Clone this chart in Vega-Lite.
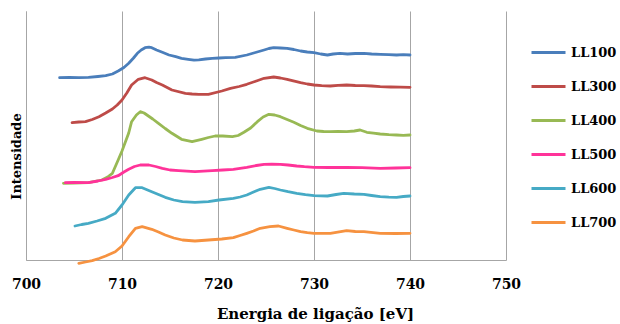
{
  "$schema": "https://vega.github.io/schema/vega-lite/v6.json",
  "width": 480,
  "height": 249,
  "autosize": {"type": "none"},
  "padding": {"left": 26, "top": 11, "right": 114, "bottom": 64},
  "background": "white",
  "config": {"view": {"stroke": null}},
  "data": {"values": [
    {"s":"LL100","e":703.5,"v":182.3},{"s":"LL100","e":704.5,"v":182.5},{"s":"LL100","e":705.5,"v":182.3},{"s":"LL100","e":706.5,"v":182.7},{"s":"LL100","e":707.5,"v":183.5},{"s":"LL100","e":708.3,"v":184.3},{"s":"LL100","e":709.0,"v":186},{"s":"LL100","e":709.6,"v":189},{"s":"LL100","e":710.2,"v":192.5},{"s":"LL100","e":710.7,"v":196.7},{"s":"LL100","e":711.2,"v":202},{"s":"LL100","e":711.6,"v":206.7},{"s":"LL100","e":712.0,"v":210},{"s":"LL100","e":712.4,"v":212.3},{"s":"LL100","e":712.8,"v":212.8},{"s":"LL100","e":713.1,"v":212.3},{"s":"LL100","e":713.6,"v":210},{"s":"LL100","e":714.2,"v":207.7},{"s":"LL100","e":714.9,"v":205},{"s":"LL100","e":715.6,"v":203.3},{"s":"LL100","e":716.2,"v":201.7},{"s":"LL100","e":716.9,"v":200.7},{"s":"LL100","e":717.5,"v":199.8},{"s":"LL100","e":718.0,"v":200.2},{"s":"LL100","e":718.7,"v":201},{"s":"LL100","e":719.4,"v":201.7},{"s":"LL100","e":720.1,"v":202},{"s":"LL100","e":720.8,"v":202.3},{"s":"LL100","e":721.8,"v":202.7},{"s":"LL100","e":723.0,"v":205},{"s":"LL100","e":723.9,"v":207.5},{"s":"LL100","e":724.8,"v":210},{"s":"LL100","e":725.3,"v":211.5},{"s":"LL100","e":725.8,"v":212.3},{"s":"LL100","e":726.5,"v":212},{"s":"LL100","e":727.2,"v":211.7},{"s":"LL100","e":727.9,"v":210.5},{"s":"LL100","e":728.6,"v":209},{"s":"LL100","e":729.3,"v":208},{"s":"LL100","e":730.0,"v":207.3},{"s":"LL100","e":730.7,"v":206},{"s":"LL100","e":731.4,"v":205},{"s":"LL100","e":732.0,"v":206},{"s":"LL100","e":732.7,"v":206.7},{"s":"LL100","e":733.5,"v":206},{"s":"LL100","e":734.3,"v":206.5},{"s":"LL100","e":735.2,"v":206.7},{"s":"LL100","e":736.0,"v":206},{"s":"LL100","e":736.9,"v":205.7},{"s":"LL100","e":737.8,"v":205.3},{"s":"LL100","e":738.6,"v":205},{"s":"LL100","e":739.3,"v":205.3},{"s":"LL100","e":740.0,"v":205},
    {"s":"LL300","e":704.8,"v":137.3},{"s":"LL300","e":705.5,"v":138},{"s":"LL300","e":706.2,"v":138.3},{"s":"LL300","e":706.9,"v":140.5},{"s":"LL300","e":707.6,"v":143.3},{"s":"LL300","e":708.3,"v":147},{"s":"LL300","e":709.0,"v":151},{"s":"LL300","e":709.5,"v":155},{"s":"LL300","e":710.0,"v":160},{"s":"LL300","e":710.5,"v":167},{"s":"LL300","e":711.0,"v":175},{"s":"LL300","e":711.7,"v":180.7},{"s":"LL300","e":712.4,"v":182.3},{"s":"LL300","e":713.1,"v":180},{"s":"LL300","e":713.6,"v":177.5},{"s":"LL300","e":714.2,"v":175},{"s":"LL300","e":715.2,"v":170},{"s":"LL300","e":716.6,"v":166.7},{"s":"LL300","e":717.3,"v":166},{"s":"LL300","e":718.0,"v":165.7},{"s":"LL300","e":719.0,"v":165.7},{"s":"LL300","e":720.4,"v":169},{"s":"LL300","e":721.3,"v":171.7},{"s":"LL300","e":722.2,"v":173.5},{"s":"LL300","e":723.0,"v":175.7},{"s":"LL300","e":724.0,"v":179},{"s":"LL300","e":724.8,"v":181.7},{"s":"LL300","e":725.8,"v":183},{"s":"LL300","e":726.5,"v":182},{"s":"LL300","e":727.2,"v":180.7},{"s":"LL300","e":728.6,"v":177.3},{"s":"LL300","e":729.3,"v":176},{"s":"LL300","e":730.0,"v":175},{"s":"LL300","e":730.8,"v":174.3},{"s":"LL300","e":731.7,"v":174},{"s":"LL300","e":732.5,"v":174.7},{"s":"LL300","e":733.4,"v":175},{"s":"LL300","e":734.3,"v":174.5},{"s":"LL300","e":735.2,"v":174.3},{"s":"LL300","e":736.0,"v":174},{"s":"LL300","e":736.9,"v":173.3},{"s":"LL300","e":738.0,"v":173},{"s":"LL300","e":739.0,"v":172.8},{"s":"LL300","e":740.0,"v":172.7},
    {"s":"LL400","e":703.9,"v":76.7},{"s":"LL400","e":705.0,"v":77},{"s":"LL400","e":706.5,"v":77.3},{"s":"LL400","e":707.9,"v":80},{"s":"LL400","e":708.5,"v":83},{"s":"LL400","e":709.0,"v":86.7},{"s":"LL400","e":709.6,"v":100},{"s":"LL400","e":710.0,"v":109},{"s":"LL400","e":710.3,"v":116.7},{"s":"LL400","e":710.7,"v":127},{"s":"LL400","e":711.0,"v":138.3},{"s":"LL400","e":711.5,"v":145},{"s":"LL400","e":711.9,"v":148.3},{"s":"LL400","e":712.3,"v":147},{"s":"LL400","e":712.6,"v":145},{"s":"LL400","e":713.2,"v":141},{"s":"LL400","e":713.8,"v":136.7},{"s":"LL400","e":714.5,"v":131.5},{"s":"LL400","e":715.2,"v":126.7},{"s":"LL400","e":716.2,"v":120.7},{"s":"LL400","e":717.3,"v":118.3},{"s":"LL400","e":718.3,"v":120.7},{"s":"LL400","e":719.0,"v":122.5},{"s":"LL400","e":719.7,"v":124},{"s":"LL400","e":720.5,"v":124},{"s":"LL400","e":721.5,"v":123.3},{"s":"LL400","e":722.1,"v":124.5},{"s":"LL400","e":722.7,"v":127.7},{"s":"LL400","e":723.4,"v":132},{"s":"LL400","e":724.1,"v":138.3},{"s":"LL400","e":724.7,"v":143},{"s":"LL400","e":725.3,"v":145.7},{"s":"LL400","e":725.9,"v":145},{"s":"LL400","e":726.5,"v":143.3},{"s":"LL400","e":727.2,"v":140.5},{"s":"LL400","e":727.9,"v":137.7},{"s":"LL400","e":728.6,"v":134.5},{"s":"LL400","e":729.3,"v":131.7},{"s":"LL400","e":730.3,"v":129},{"s":"LL400","e":731.0,"v":128.5},{"s":"LL400","e":731.7,"v":128.3},{"s":"LL400","e":732.5,"v":128.5},{"s":"LL400","e":733.4,"v":128.3},{"s":"LL400","e":734.2,"v":129},{"s":"LL400","e":734.8,"v":130},{"s":"LL400","e":735.5,"v":127.7},{"s":"LL400","e":736.2,"v":126.8},{"s":"LL400","e":736.9,"v":126},{"s":"LL400","e":737.8,"v":125.3},{"s":"LL400","e":738.6,"v":125},{"s":"LL400","e":739.3,"v":124.6},{"s":"LL400","e":740.0,"v":125},
    {"s":"LL500","e":704.1,"v":77.3},{"s":"LL500","e":705.0,"v":77.5},{"s":"LL500","e":706.5,"v":77.3},{"s":"LL500","e":707.5,"v":79},{"s":"LL500","e":708.3,"v":80.7},{"s":"LL500","e":709.0,"v":82.5},{"s":"LL500","e":709.6,"v":84.3},{"s":"LL500","e":710.2,"v":88},{"s":"LL500","e":710.7,"v":90.7},{"s":"LL500","e":711.3,"v":93.5},{"s":"LL500","e":711.9,"v":95},{"s":"LL500","e":712.8,"v":95},{"s":"LL500","e":713.5,"v":93.5},{"s":"LL500","e":714.2,"v":91.7},{"s":"LL500","e":715.0,"v":90},{"s":"LL500","e":715.9,"v":89.3},{"s":"LL500","e":717.6,"v":88.3},{"s":"LL500","e":719.4,"v":89.3},{"s":"LL500","e":720.5,"v":90},{"s":"LL500","e":721.6,"v":90.7},{"s":"LL500","e":723.0,"v":92.7},{"s":"LL500","e":724.0,"v":94.5},{"s":"LL500","e":724.8,"v":95.7},{"s":"LL500","e":725.6,"v":95.8},{"s":"LL500","e":726.5,"v":95.7},{"s":"LL500","e":727.3,"v":95},{"s":"LL500","e":728.2,"v":94},{"s":"LL500","e":729.0,"v":93.3},{"s":"LL500","e":730.0,"v":92.7},{"s":"LL500","e":731.5,"v":92.5},{"s":"LL500","e":733.4,"v":92.7},{"s":"LL500","e":735.0,"v":92.3},{"s":"LL500","e":736.9,"v":91.7},{"s":"LL500","e":738.5,"v":92},{"s":"LL500","e":740.0,"v":92.3},
    {"s":"LL600","e":705.1,"v":34},{"s":"LL600","e":705.8,"v":35.5},{"s":"LL600","e":706.5,"v":36.7},{"s":"LL600","e":707.4,"v":39},{"s":"LL600","e":708.3,"v":41.7},{"s":"LL600","e":709.3,"v":46.7},{"s":"LL600","e":710.0,"v":55},{"s":"LL600","e":710.7,"v":65},{"s":"LL600","e":711.4,"v":72.3},{"s":"LL600","e":712.1,"v":72.3},{"s":"LL600","e":713.1,"v":68.3},{"s":"LL600","e":713.8,"v":65.5},{"s":"LL600","e":714.5,"v":62.7},{"s":"LL600","e":715.4,"v":60},{"s":"LL600","e":716.3,"v":58.3},{"s":"LL600","e":717.6,"v":57.7},{"s":"LL600","e":719.0,"v":58.3},{"s":"LL600","e":720.1,"v":60},{"s":"LL600","e":721.6,"v":61.7},{"s":"LL600","e":722.3,"v":63},{"s":"LL600","e":723.0,"v":65},{"s":"LL600","e":723.7,"v":68},{"s":"LL600","e":724.4,"v":70.7},{"s":"LL600","e":725.3,"v":72.7},{"s":"LL600","e":725.9,"v":71.5},{"s":"LL600","e":726.5,"v":70},{"s":"LL600","e":727.3,"v":68.3},{"s":"LL600","e":728.2,"v":66.7},{"s":"LL600","e":729.1,"v":65.3},{"s":"LL600","e":730.0,"v":64.3},{"s":"LL600","e":731.4,"v":64},{"s":"LL600","e":732.3,"v":65.5},{"s":"LL600","e":733.1,"v":66.7},{"s":"LL600","e":734.2,"v":66},{"s":"LL600","e":735.2,"v":65.7},{"s":"LL600","e":736.0,"v":64.5},{"s":"LL600","e":736.9,"v":63.3},{"s":"LL600","e":737.8,"v":62.8},{"s":"LL600","e":738.6,"v":62.7},{"s":"LL600","e":739.3,"v":63.5},{"s":"LL600","e":740.0,"v":64},
    {"s":"LL700","e":705.5,"v":-3.3},{"s":"LL700","e":706.2,"v":-2},{"s":"LL700","e":706.9,"v":-0.7},{"s":"LL700","e":707.6,"v":1.5},{"s":"LL700","e":708.3,"v":4},{"s":"LL700","e":709.3,"v":8.3},{"s":"LL700","e":710.0,"v":14},{"s":"LL700","e":710.7,"v":23.3},{"s":"LL700","e":711.4,"v":31.7},{"s":"LL700","e":712.1,"v":33.3},{"s":"LL700","e":713.1,"v":30.7},{"s":"LL700","e":713.8,"v":28},{"s":"LL700","e":714.5,"v":25},{"s":"LL700","e":715.4,"v":22},{"s":"LL700","e":716.3,"v":20},{"s":"LL700","e":717.6,"v":19},{"s":"LL700","e":719.0,"v":20},{"s":"LL700","e":720.4,"v":21},{"s":"LL700","e":721.6,"v":22.3},{"s":"LL700","e":722.3,"v":24.5},{"s":"LL700","e":723.0,"v":26.7},{"s":"LL700","e":723.7,"v":29},{"s":"LL700","e":724.4,"v":31.7},{"s":"LL700","e":725.4,"v":33.3},{"s":"LL700","e":726.3,"v":34},{"s":"LL700","e":727.2,"v":31.7},{"s":"LL700","e":727.9,"v":30},{"s":"LL700","e":728.6,"v":28.3},{"s":"LL700","e":729.3,"v":27.3},{"s":"LL700","e":730.0,"v":26.7},{"s":"LL700","e":731.7,"v":26.7},{"s":"LL700","e":733.4,"v":29.3},{"s":"LL700","e":734.3,"v":28.5},{"s":"LL700","e":735.2,"v":28.3},{"s":"LL700","e":736.9,"v":26.7},{"s":"LL700","e":738.5,"v":26.5},{"s":"LL700","e":740.0,"v":26.7}
  ]},
  "mark": {"type": "line", "strokeWidth": 2.8, "strokeCap": "round", "strokeJoin": "round"},
  "encoding": {
    "x": {
      "field": "e", "type": "quantitative",
      "scale": {"domain": [700, 750], "nice": false, "zero": false},
      "axis": {
        "values": [700, 710, 720, 730, 740, 750],
        "title": "Energia de ligação [eV]",
        "grid": true, "gridColor": "#A6A6A6", "gridWidth": 1,
        "domainColor": "#A6A6A6", "domainWidth": 1,
        "ticks": false, "labelFlush": false, "labelOverlap": false,
        "labelFont": "DejaVu Serif", "labelFontWeight": "bold", "labelFontSize": 14, "labelColor": "#000000",
        "labelBaseline": "alphabetic", "labelPadding": 28,
        "titleFont": "DejaVu Serif", "titleFontWeight": "bold", "titleFontSize": 15, "titleColor": "#000000",
        "titleBaseline": "alphabetic", "titleX": 289, "titleY": 58
      }
    },
    "y": {
      "field": "v", "type": "quantitative",
      "scale": {"domain": [0, 249], "nice": false, "zero": false},
      "axis": {
        "title": "Intensidade",
        "labels": false, "ticks": false, "grid": false,
        "domainColor": "#A6A6A6", "domainWidth": 1,
        "titleFont": "DejaVu Serif", "titleFontWeight": "bold", "titleFontSize": 13, "titleColor": "#000000",
        "titleBaseline": "alphabetic", "titleAlign": "center", "titleX": -6, "titleY": 145, "titleAngle": -90
      }
    },
    "color": {
      "field": "s", "type": "nominal",
      "scale": {
        "domain": ["LL100", "LL300", "LL400", "LL500", "LL600", "LL700"],
        "range": ["#4A7EBB", "#BE4B48", "#98B954", "#FF3399", "#46AAC5", "#F69240"]
      },
      "legend": {
        "title": null, "orient": "none", "legendX": 504, "legendY": 23, "padding": 0,
        "symbolType": "stroke", "symbolSize": 1156, "symbolStrokeWidth": 3,
        "rowPadding": 8, "labelOffset": 4,
        "labelFont": "DejaVu Serif", "labelFontWeight": "bold", "labelFontSize": 13, "labelColor": "#000000"
      }
    },
    "order": {"field": "e", "type": "quantitative"}
  }
}
